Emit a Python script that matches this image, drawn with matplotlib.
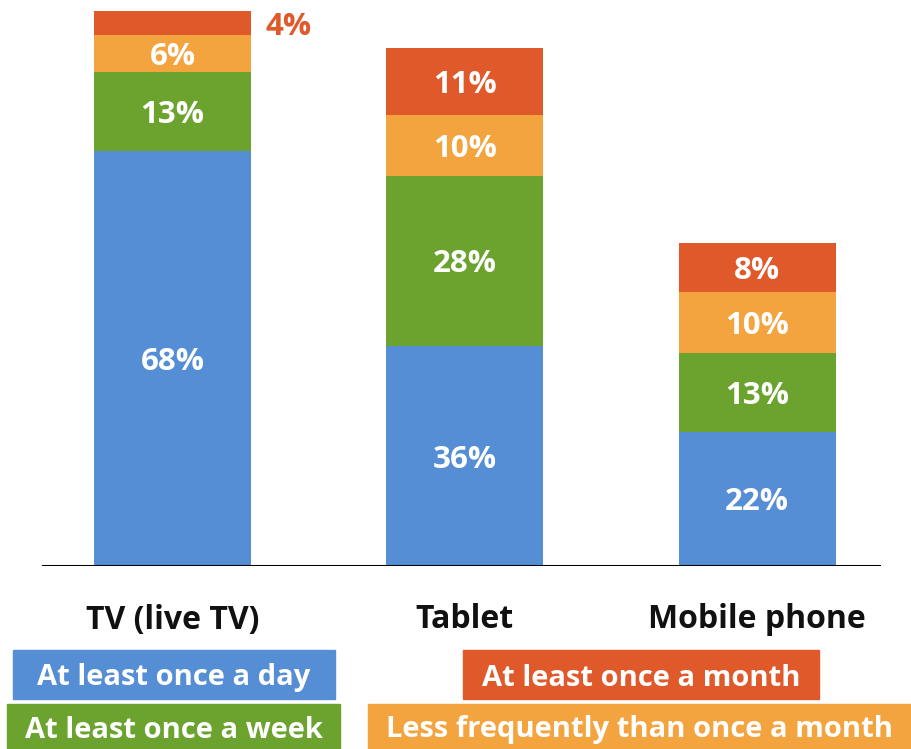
import matplotlib
matplotlib.use("Agg")
import matplotlib.pyplot as plt
from matplotlib.patches import Rectangle

categories = ["TV (live TV)", "Tablet", "Mobile phone"]
series_names = ["At least once a day", "At least once a week",
                "Less frequently than once a month", "At least once a month"]
daily = [68, 36, 22]
weekly = [13, 28, 13]
less_monthly = [6, 10, 10]
monthly = [4, 11, 8]
series = [daily, weekly, less_monthly, monthly]
colors = ["#558ED5", "#6BA32E", "#F4A43F", "#E0592A"]

plt.rcParams['font.family'] = ['Open Sans', 'DejaVu Sans']

W, H = 911, 749
fig = plt.figure(figsize=(W / 100, H / 100), dpi=100)
base_px = 566
ax = fig.add_axes([0, (H - base_px) / H, 1, base_px / H])
px_per_pct = 6.1
ax.set_ylim(0, base_px / px_per_pct)
unit = 292.25
ax.set_xlim(-172.5 / unit, (W - 172.5) / unit)
width = 157 / unit

x = list(range(len(categories)))
bottoms = [0, 0, 0]
for vals, col in zip(series, colors):
    ax.bar(x, vals, width=width, bottom=bottoms, color=col, edgecolor='none')
    for i, v in enumerate(vals):
        if v >= 5:
            ax.text(i, bottoms[i] + v / 2, f"{v}%", ha='center', va='center_baseline',
                    color='white', fontsize=22.5, fontweight='bold')
        else:
            ax.text(i + width / 2 + 14 / unit, bottoms[i] + v / 2, f"{v}%",
                    ha='left', va='center_baseline', color=col, fontsize=22.5,
                    fontweight='bold')
    bottoms = [b + v for b, v in zip(bottoms, vals)]

for s in ax.spines.values():
    s.set_visible(False)
ax.axhline(0, xmin=43 / W, xmax=879 / W, color='black', lw=2.2)
ax.set_yticks([])
ax.set_xticks(x)
ax.set_xticklabels(categories, fontsize=23, fontweight='bold', color='#111111')
ax.tick_params(axis='x', length=0, pad=27)

# legend boxes (figure pixel coords, y from top)
legend_boxes = [
    (series_names[0], colors[0], 13, 650, 322, 49),
    (series_names[3], colors[3], 463, 650, 356, 49),
    (series_names[1], colors[1], 7, 704, 333, 45),
    (series_names[2], colors[2], 368, 704, 543, 45),
]
for name, col, bx, by, bw, bh in legend_boxes:
    fig.patches.append(Rectangle((bx / W, 1 - (by + bh) / H), bw / W, bh / H,
                                 transform=fig.transFigure, color=col, zorder=1))
    fig.text((bx + bw / 2) / W, 1 - (by + bh / 2) / H, name, ha='center',
             va='center_baseline', color='white', fontsize=21, fontweight='bold', zorder=2)

fig.savefig("out.png", dpi=100)
